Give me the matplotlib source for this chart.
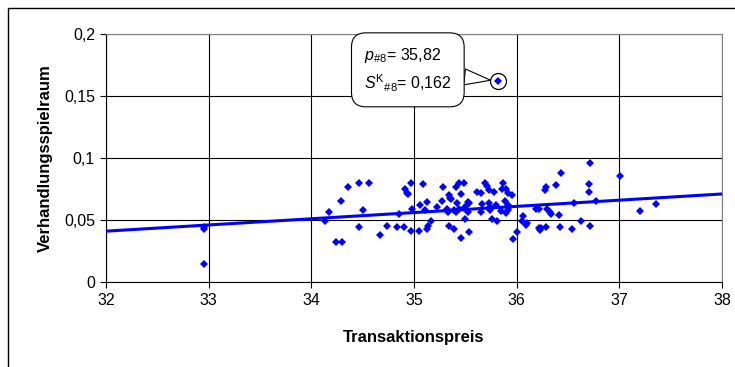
import numpy as np
import matplotlib
matplotlib.use("Agg")
import matplotlib.pyplot as plt
from matplotlib.patches import Rectangle

plt.rcParams['font.family'] = ['Liberation Sans', 'DejaVu Sans']
plt.rcParams['mathtext.fontset'] = 'custom'
plt.rcParams['mathtext.rm'] = 'Liberation Sans'
plt.rcParams['mathtext.it'] = 'Liberation Sans:italic'

# Transaktionspreis / Verhandlungsspielraum
preis = [32.95, 32.95, 32.95,
         34.13, 34.17, 34.24, 34.30, 34.29, 34.36, 34.46, 34.56, 34.50, 34.46,
         34.67, 34.74, 34.83, 34.90, 34.85, 34.91, 34.93, 34.94,
         34.97, 34.97, 35.05, 34.98, 35.06, 35.09, 35.11, 35.13, 35.13, 35.14,
         35.17, 35.22, 35.27, 35.28, 35.32, 35.33, 35.34, 35.35, 35.36, 35.34,
         35.39, 35.42, 35.41, 35.44, 35.49, 35.46, 35.39, 35.41, 35.44, 35.46,
         35.50, 35.54, 35.49, 35.52, 35.53, 35.54, 35.53, 35.65, 35.61, 35.66,
         35.65, 35.69, 35.71, 35.73, 35.74, 35.74, 35.73, 35.76, 35.78, 35.80,
         35.81, 35.87, 35.86, 35.90, 35.89, 35.92,
         35.95, 35.85, 35.90, 35.92, 35.93, 35.92, 35.96, 36.00, 36.06, 36.05,
         36.09, 36.10, 36.19, 36.22, 36.22, 36.23, 36.24, 36.29, 36.28, 36.29,
         36.30, 36.32, 36.33, 36.38, 36.41, 36.43, 36.42, 36.54, 36.56, 36.63,
         36.71, 36.70, 36.70, 36.77, 36.71,
         37.01, 37.20, 37.36]
spielraum = [0.0425, 0.0446, 0.0145,
             0.0492, 0.0567, 0.0323, 0.0323, 0.0656, 0.0766, 0.0798, 0.0798, 0.0578, 0.0444,
             0.0376, 0.0454, 0.0444, 0.0444, 0.0546, 0.0747, 0.0720, 0.0707,
             0.0801, 0.0414, 0.0414, 0.0586, 0.0624, 0.0788, 0.0578, 0.0643, 0.0427, 0.0452,
             0.0489, 0.0608, 0.0653, 0.0766, 0.0586, 0.0567, 0.0702, 0.0680, 0.0669, 0.0454,
             0.0430, 0.0635, 0.0764, 0.0796, 0.0801, 0.0710, 0.0581, 0.0567, 0.0586, 0.0358,
             0.0508, 0.0403, 0.0594, 0.0621, 0.0648, 0.0635, 0.0567, 0.0715, 0.0728, 0.0627,
             0.0567, 0.0801, 0.0774, 0.0742, 0.0608, 0.0581, 0.0635, 0.0508, 0.0723, 0.0618,
             0.0492, 0.0796, 0.0747, 0.0747, 0.0656, 0.0715,
             0.0702, 0.0573, 0.0554, 0.0581, 0.0608, 0.0621, 0.0344, 0.0401, 0.0532, 0.0492,
             0.0460, 0.0473, 0.0589, 0.0589, 0.0438, 0.0419, 0.0433, 0.0446, 0.0742, 0.0769,
             0.0589, 0.0567, 0.0548, 0.0780, 0.0540, 0.0876, 0.0444, 0.0430, 0.0635, 0.0492,
             0.0962, 0.0788, 0.0728, 0.0653, 0.0454,
             0.0855, 0.0575, 0.0632]

# outlier #8
p8 = 35.82
s8 = 0.162

# linear trend line end points
trend_x = [32, 38]
trend_y = [0.041, 0.071]

x_ticks = [32, 33, 34, 35, 36, 37, 38]
y_ticks = [0, 0.05, 0.1, 0.15, 0.2]

fig = plt.figure(figsize=(7.35, 3.67), dpi=100)
ax = fig.add_axes([0.1442, 0.2316, 0.8381, 0.6757])

# outer chart frame (only top/left visible in the crop)
fig.add_artist(Rectangle((0.0109, -0.5), 1.5, 1.478, transform=fig.transFigure,
                         fill=False, ec='black', lw=1.0))

ax.set_xlim(32, 38)
ax.set_ylim(0, 0.2)
ax.set_xticks(x_ticks)
ax.set_yticks(y_ticks)
ax.set_xticklabels([str(t) for t in x_ticks])
ax.set_yticklabels([f"{t:g}".replace('.', ',') for t in y_ticks])
ax.tick_params(direction='out', length=4, width=0.8, color='black', labelsize=11.5, pad=4)
ax.grid(True, color='black', lw=0.8)
ax.set_axisbelow(True)
for side in ['top', 'right']:
    ax.spines[side].set_color('#808080')
for side in ['left', 'bottom']:
    ax.spines[side].set_color('black')
for s in ax.spines.values():
    s.set_linewidth(0.8)

ax.plot(preis, spielraum, 'D', color='#0000FF', markersize=4.4, mew=0, zorder=3)
ax.plot([p8], [s8], 'D', color='#0000FF', markersize=4.4, mew=0, zorder=4)
ax.plot([p8], [s8], 'o', mfc='none', mec='black', markersize=11.5, mew=0.9, zorder=4)
ax.plot(trend_x, trend_y, color='#0000FF', lw=2.2, zorder=3)

ax.annotate("$p_{\\#8}$= 35,82\n$S^{\\mathrm{K}}{}_{\\#8}$= 0,162",
            xy=(p8, s8), xytext=(34.94, 0.171), textcoords='data',
            ha='center', va='center', multialignment='left', fontsize=11.5, linespacing=1.5,
            bbox=dict(boxstyle='round,pad=0.78,rounding_size=0.9', fc='white', ec='black', lw=0.8),
            arrowprops=dict(arrowstyle='wedge,tail_width=1.0,shrink_factor=0.5',
                            fc='white', ec='black', lw=0.8, shrinkA=0, shrinkB=5.5),
            zorder=5)

ax.set_xlabel('Transaktionspreis', fontsize=12, fontweight='bold', labelpad=16)
ax.set_ylabel('Verhandlungsspielraum', fontsize=12, fontweight='bold', labelpad=8)

fig.savefig('out.png', dpi=100)
